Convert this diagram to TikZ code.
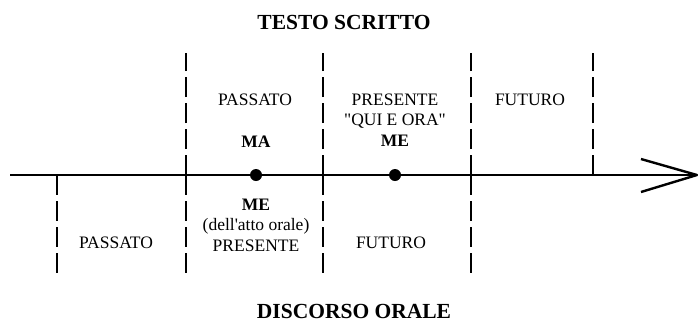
\documentclass[tikz,border=0pt]{standalone}
\usepackage{fontspec}
\setmainfont{Liberation Serif}[Ligatures=TeXOff]
\begin{document}
\begin{tikzpicture}[x=1pt,y=-1pt,
  axisline/.style={line width=2.4pt, line join=round},
  vdash/.style={line width=2.6pt, dash pattern=on 20pt off 6pt},
  lbl/.style={font=\fontsize{17.5}{20.5}\selectfont, align=center, inner sep=0pt},
  ttl/.style={font=\fontsize{21.5}{24}\selectfont\bfseries, inner sep=0pt},
  tdot/.style={circle, fill=black, inner sep=0pt, minimum size=12pt}]
\useasboundingbox (0,0) rectangle (698,322);
% axis
\coordinate (L) at (10,175);
\coordinate (R) at (697,175);
\coordinate (wt) at (641,159);
\coordinate (wb) at (641,192);
\draw[axisline] (L) -- (R);
\draw[axisline] (wt) -- (R) -- (wb);
% vertical dashed lines
\coordinate (v0a) at (57,175);  \coordinate (v0b) at (57,278);
\coordinate (v1a) at (186,175); \coordinate (v1t) at (186,53); \coordinate (v1b) at (186,278);
\coordinate (v2a) at (323,175); \coordinate (v2t) at (323,53); \coordinate (v2b) at (323,278);
\coordinate (v3a) at (471,175); \coordinate (v3t) at (471,53); \coordinate (v3b) at (471,278);
\coordinate (v4a) at (593,175); \coordinate (v4t) at (593,53);
\draw[vdash] (v0a) -- (v0b);
\draw[vdash] (v1a) -- (v1t); \draw[vdash] (v1a) -- (v1b);
\draw[vdash] (v2a) -- (v2t); \draw[vdash] (v2a) -- (v2b);
\draw[vdash] (v3a) -- (v3t); \draw[vdash] (v3a) -- (v3b);
\draw[vdash] (v4a) -- (v4t);
% dots
\node[tdot] (d1) at (256,175) {};
\node[tdot] (d2) at (395,175) {};
% titles
\node[ttl] (t1) at (344,22) {TESTO SCRITTO};
\node[ttl] (t2) at (354,311) {DISCORSO ORALE};
% upper labels
\node[lbl] (up1) at (255,100) {PASSATO};
\node[lbl] (ma) at (256,142) {\bfseries MA};
\node[lbl] (up2) at (395,120) {PRESENTE\\"QUI E ORA"\\\bfseries ME};
\node[lbl] (up3) at (530,100) {FUTURO};
% lower labels
\node[lbl] (lo1) at (116,243) {PASSATO};
\node[lbl] (lo2) at (256,225) {\bfseries ME\\(dell'atto orale)\\PRESENTE};
\node[lbl] (lo3) at (391,243) {FUTURO};
\end{tikzpicture}
\end{document}
